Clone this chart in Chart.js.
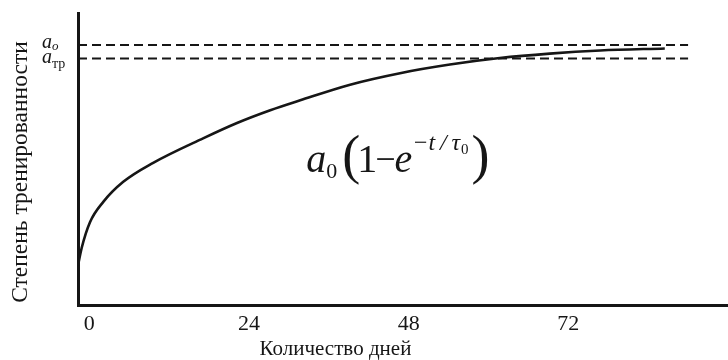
<!DOCTYPE html>
<html>
<head>
<meta charset="utf-8">
<script src="https://cdn.jsdelivr.net/npm/chart.js@4/dist/chart.umd.min.js"></script>
<style>
  html, body { margin: 0; padding: 0; background: #fff; }
  #wrap { width: 728px; height: 360px; }
</style>
</head>
<body>
<div id="wrap"><canvas id="chart" width="728" height="360"></canvas></div>
<script>
// values (y is a share of a0)
const days = [-1.7, -1.14, 0.1, 2.1, 5.1, 9.6, 17.1, 22.2, 27.2, 31.7, 39.2, 46.7, 54.2, 61.7, 69.2, 76.8, 86.5];
const level = [0.154, 0.222, 0.32, 0.398, 0.475, 0.548, 0.642, 0.701, 0.75, 0.788, 0.848, 0.892, 0.925, 0.95, 0.967, 0.979, 0.987];

const dayTicks = [0, 24, 48, 72];
const refSpan = [-1.7, 90];
const a0 = 1;
const aTr = 0.948;

const serif = "'Liberation Serif', 'Times New Roman', serif";
const ink = '#161616';

const toPoints = (xs, ys) => xs.map((x, i) => ({x: x, y: ys[i]}));

// extra labels: y ticks with subscripts, axis titles, formula
const textPlugin = {
    id: 'texts',
    afterDraw(chart) {
        const ctx = chart.ctx;
        const xs = chart.scales.x;
        const ys = chart.scales.y;
        ctx.save();
        ctx.fillStyle = ink;

        // y tick labels
        const tickX = 42;
        let y = ys.getPixelForValue(a0);
        ctx.textBaseline = 'alphabetic';
        ctx.textAlign = 'left';
        ctx.font = 'italic 20px ' + serif;
        ctx.fillText('a', tickX, y + 3);
        ctx.font = 'italic 13px ' + serif;
        ctx.fillText('o', tickX + 10, y + 5);

        y = ys.getPixelForValue(aTr);
        ctx.font = 'italic 20px ' + serif;
        ctx.fillText('a', tickX, y + 4);
        ctx.font = '14px ' + serif;
        ctx.fillText('тр', tickX + 10, y + 9);

        // x title
        ctx.font = '21px ' + serif;
        ctx.textAlign = 'center';
        ctx.fillText('Количество дней', xs.getPixelForValue(37), 355);

        // y title
        ctx.save();
        ctx.font = '23.5px ' + serif;
        ctx.translate(27, 172);
        ctx.rotate(-Math.PI / 2);
        ctx.fillText('Степень тренированности', 0, 0);
        ctx.restore();

        // formula a0(1 - e^(-t/τ0))
        let fx = xs.getPixelForValue(32.6);
        const base = ys.getPixelForValue(0.512);
        ctx.textAlign = 'left';
        const put = (txt, font, dy, gap) => {
            ctx.font = font;
            ctx.fillText(txt, fx, base + dy);
            fx += ctx.measureText(txt).width + (gap || 0);
        };
        put('a', 'italic 40px ' + serif, 0, 0);
        put('0', '22px ' + serif, 6, 5);
        put('(', '54px ' + serif, 1, -3);
        put('1', '40px ' + serif, 0, -2);
        put('\u2212', '36px ' + serif, -1, -1);
        put('e', 'italic 40px ' + serif, 0, 0);
        put('\u2212t\u2009/\u2009\u03c4', 'italic 24px ' + serif, -22, 1);
        put('0', '15px ' + serif, -18, 3);
        put(')', '54px ' + serif, 1, 0);

        ctx.restore();
    }
};

new Chart(document.getElementById('chart'), {
    type: 'line',
    data: {
        datasets: [
            {
                data: toPoints(days, level),
                borderColor: ink,
                borderWidth: 2.6,
                pointRadius: 0,
                cubicInterpolationMode: 'monotone',
                fill: false
            },
            {
                data: toPoints(refSpan, [a0, a0]),
                borderColor: ink,
                borderWidth: 2,
                borderDash: [9, 5],
                pointRadius: 0,
                fill: false
            },
            {
                data: toPoints(refSpan, [aTr, aTr]),
                borderColor: ink,
                borderWidth: 2,
                borderDash: [9, 5],
                pointRadius: 0,
                fill: false
            }
        ]
    },
    options: {
        responsive: false,
        animation: false,
        layout: { padding: { left: 78, top: 13, right: 0, bottom: 18 } },
        plugins: { legend: { display: false }, tooltip: { enabled: false } },
        scales: {
            x: {
                type: 'linear',
                min: -1.7,
                max: 96,
                afterBuildTicks: axis => { axis.ticks = dayTicks.map(v => ({value: v})); },
                grid: { display: false, drawTicks: false },
                border: { display: true, color: ink, width: 3 },
                ticks: {
                    color: ink,
                    padding: 5,
                    maxRotation: 0,
                    font: { family: serif, size: 22 }
                }
            },
            y: {
                min: 0,
                max: 1.123,
                grid: { display: false, drawTicks: false },
                border: { display: true, color: ink, width: 3 },
                ticks: { display: false }
            }
        }
    },
    plugins: [textPlugin]
});
</script>
</body>
</html>
